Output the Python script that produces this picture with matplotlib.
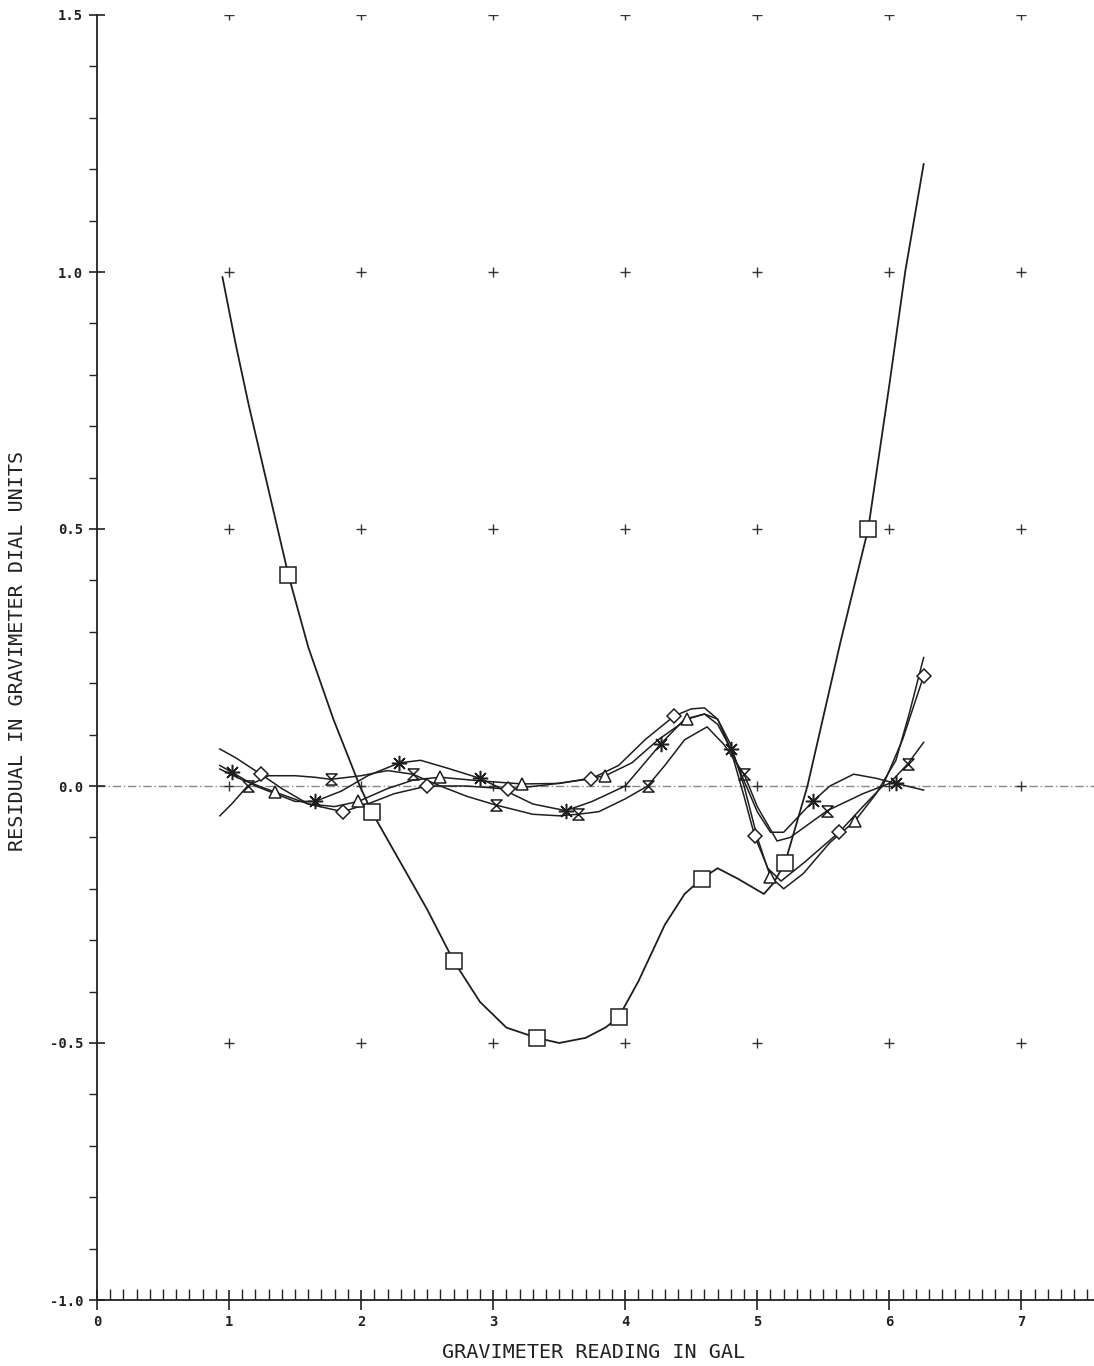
import matplotlib
matplotlib.use("Agg")
import matplotlib.pyplot as plt
from matplotlib.path import Path
import numpy as np

# ---- data ----
sq_x = [0.95, 1.05, 1.15, 1.25, 1.35, 1.45, 1.6, 1.79, 1.99, 2.08, 2.27, 2.5, 2.70, 2.9, 3.1, 3.33, 3.5, 3.7, 3.85, 3.95,
        4.1, 4.3, 4.45, 4.58, 4.7, 4.85, 5.05, 5.12, 5.21, 5.38, 5.63, 5.84, 6.0, 6.12, 6.26]
sq_y = [0.99, 0.86, 0.74, 0.63, 0.52, 0.41, 0.27, 0.13, 0.0, -0.05, -0.136, -0.24, -0.34, -0.42, -0.47, -0.49, -0.50, -0.49, -0.47, -0.45,
        -0.38, -0.27, -0.21, -0.18, -0.16, -0.18, -0.21, -0.19, -0.15, 0.0, 0.28, 0.50, 0.78, 1.0, 1.21]
sq_mx = [1.45, 2.08, 2.70, 3.33, 3.95, 4.58, 5.21, 5.84]
sq_my = [0.41, -0.05, -0.34, -0.49, -0.45, -0.18, -0.15, 0.50]

di_x = [0.93, 1.05, 1.24, 1.4, 1.6, 1.86, 2.05, 2.25, 2.5, 2.8, 3.11, 3.4, 3.74, 3.95, 4.15, 4.37, 4.5, 4.6,
        4.7, 4.8, 4.9, 4.98, 5.08, 5.18, 5.35, 5.62, 5.8, 5.95, 6.1, 6.26]
di_y = [0.072, 0.055, 0.023, -0.005, -0.035, -0.05, -0.035, -0.015, 0.0, 0.0, -0.006, 0.002, 0.014, 0.04, 0.09, 0.136, 0.15, 0.152,
        0.13, 0.07, -0.02, -0.097, -0.16, -0.185, -0.15, -0.09, -0.04, 0.0, 0.09, 0.214]
di_mx = [1.24, 1.86, 2.50, 3.11, 3.74, 4.37, 4.98, 5.62, 6.26]
di_my = [0.023, -0.05, 0.0, -0.006, 0.014, 0.136, -0.097, -0.09, 0.214]

tr_x = [0.93, 1.1, 1.35, 1.6, 1.8, 1.98, 2.2, 2.4, 2.60, 2.9, 3.22, 3.5, 3.85, 4.05, 4.25, 4.47, 4.6, 4.7,
        4.8, 4.9, 5.0, 5.10, 5.2, 5.35, 5.55, 5.74, 5.9, 6.05, 6.15, 6.26]
tr_y = [0.033, 0.012, -0.012, -0.035, -0.04, -0.03, -0.005, 0.012, 0.017, 0.01, 0.004, 0.005, 0.02, 0.045, 0.09, 0.13, 0.14, 0.13,
        0.08, 0.0, -0.1, -0.177, -0.2, -0.17, -0.11, -0.068, -0.015, 0.05, 0.14, 0.25]
tr_mx = [1.35, 1.98, 2.60, 3.22, 3.85, 4.47, 5.10, 5.74]
tr_my = [-0.012, -0.03, 0.017, 0.004, 0.02, 0.13, -0.177, -0.068]

as_x = [0.93, 1.02, 1.2, 1.4, 1.5, 1.65, 1.85, 2.05, 2.29, 2.45, 2.65, 2.90, 3.1, 3.3, 3.55, 3.75, 4.0, 4.27,
        4.45, 4.6, 4.7, 4.80, 4.90, 5.0, 5.1, 5.2, 5.42, 5.55, 5.73, 5.9, 6.05, 6.26]
as_y = [0.04, 0.027, 0.0, -0.02, -0.03, -0.03, -0.01, 0.02, 0.045, 0.05, 0.035, 0.015, -0.01, -0.035, -0.048, -0.03, 0.0, 0.082,
        0.13, 0.14, 0.12, 0.072, 0.01, -0.05, -0.09, -0.09, -0.03, 0.0, 0.023, 0.015, 0.005, -0.008]
as_mx = [1.02, 1.65, 2.29, 2.90, 3.55, 4.27, 4.80, 5.42, 6.05]
as_my = [0.027, -0.03, 0.045, 0.015, -0.048, 0.082, 0.072, -0.03, 0.005]

xb_x = [0.93, 1.02, 1.14, 1.3, 1.5, 1.65, 1.77, 2.0, 2.2, 2.39, 2.6, 2.8, 3.02, 3.3, 3.5, 3.64, 3.8, 4.0, 4.17,
        4.3, 4.45, 4.62, 4.75, 4.90, 5.0, 5.15, 5.25, 5.53, 5.8, 6.0, 6.14, 6.26]
xb_y = [-0.058, -0.035, 0.0, 0.02, 0.02, 0.017, 0.013, 0.02, 0.03, 0.023, 0.0, -0.02, -0.037, -0.055, -0.058, -0.055, -0.05, -0.025, 0.0,
        0.04, 0.09, 0.115, 0.08, 0.023, -0.04, -0.107, -0.1, -0.048, -0.015, 0.005, 0.043, 0.085]
xb_mx = [1.14, 1.77, 2.39, 3.02, 3.64, 4.17, 4.90, 5.53, 6.14]
xb_my = [0.0, 0.013, 0.023, -0.037, -0.055, 0.0, 0.023, -0.048, 0.043]

grid_x = [1, 2, 3, 4, 5, 6, 7]
grid_y = [1.5, 1.0, 0.5, 0.0, -0.5]
xticks = [0, 1, 2, 3, 4, 5, 6, 7]
yticks = [-1.0, -0.5, 0.0, 0.5, 1.0, 1.5]
ytick_labels = ["-1.0", "-0.5", "0.0", "0.5", "1.0", "1.5"]

# ---- figure ----
fig = plt.figure(figsize=(10.94, 13.66), dpi=100)
ax = fig.add_axes([97 / 1094, 66 / 1366, 997 / 1094, 1285 / 1366])
ax.set_xlim(0, 7.55)
ax.set_ylim(-1.0, 1.5)
for s in ["top", "right"]:
    ax.spines[s].set_visible(False)
for s in ["left", "bottom"]:
    ax.spines[s].set_linewidth(1.3)
    ax.spines[s].set_color("#222222")

ink = "#1e1e1e"

# zero reference line
ax.axhline(0, color="#888888", lw=1.0, ls=(0, (6, 2, 1, 2)), zorder=1)
# grid crosses
gx, gy = np.meshgrid(grid_x, grid_y)
ax.plot(gx.ravel(), gy.ravel(), ls="none", marker="+", ms=7, mew=1.0, color="#333333", zorder=1)

# custom hourglass (X with bars) marker
hg = Path([(-1, 1), (1, 1), (-1, -1), (1, -1), (-1, 1)],
          [Path.MOVETO, Path.LINETO, Path.LINETO, Path.LINETO, Path.LINETO])

series = [
    (sq_x, sq_y, sq_mx, sq_my, "s", 11, 1.3),
    (di_x, di_y, di_mx, di_my, "D", 7, 1.1),
    (tr_x, tr_y, tr_mx, tr_my, "^", 8, 1.1),
    (as_x, as_y, as_mx, as_my, (8, 2, 0), 11, 1.1),
    (xb_x, xb_y, xb_mx, xb_my, hg, 8, 1.1),
]
for lx, ly, mx, my, mk, ms, lw in series:
    ax.plot(lx, ly, color=ink, lw=lw, zorder=3)
    ax.plot(mx, my, ls="none", marker=mk, ms=ms, mfc="white" if mk in ("s", "D", "^") else "none",
            mec=ink, mew=1.1, color=ink, zorder=4)

# ticks
mono = "DejaVu Sans Mono"
ax.set_xticks(xticks)
ax.set_xticklabels([str(v) for v in xticks], fontfamily=mono, fontsize=10, fontweight="bold")
ax.set_xticks(np.arange(0, 7.55, 0.1), minor=True)
ax.tick_params(axis="x", which="major", direction="inout", length=14, width=1.2, pad=4, colors="#222222")
ax.tick_params(axis="x", which="minor", direction="in", length=8, width=1.0, colors="#222222")

ax.set_yticks(yticks)
ax.set_yticklabels(ytick_labels, fontfamily=mono, fontsize=10, fontweight="bold")
ax.set_yticks(np.arange(-1.0, 1.51, 0.1), minor=True)
ax.tick_params(axis="y", which="major", direction="inout", length=12, width=1.2, pad=4, colors="#222222")
ax.tick_params(axis="y", which="minor", direction="out", length=6, width=1.0, colors="#222222")

fig.text(594 / 1094, 1 - 1352 / 1366, "GRAVIMETER READING IN GAL", fontfamily=mono, fontsize=14.5,
         color="#222222", ha="center", va="center")
fig.text(18 / 1094, 1 - 651 / 1366, "RESIDUAL IN GRAVIMETER DIAL UNITS", fontfamily=mono, fontsize=14.5,
         color="#222222", ha="center", va="center", rotation=90)

fig.savefig("out.png", dpi=100, facecolor="white")
